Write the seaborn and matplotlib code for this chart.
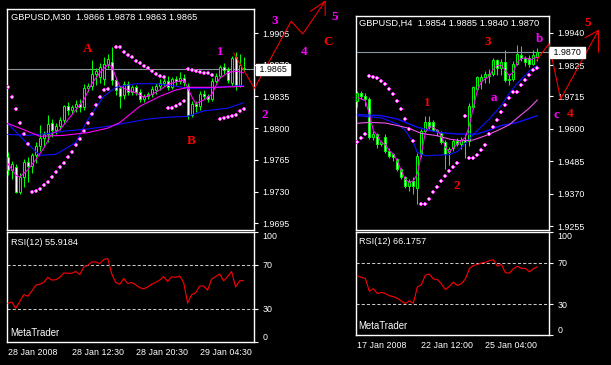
import matplotlib
matplotlib.use("Agg")
import matplotlib.pyplot as plt
import matplotlib.transforms as mtransforms
import seaborn as sns

W, H = 611, 365

# ---------------- GBPUSD M30 (left) ----------------
m30_open = [1.9768, 1.9754, 1.9757, 1.9730, 1.9746, 1.9763, 1.9758, 1.9770, 1.9780, 1.9789,
            1.9794, 1.9806, 1.9798, 1.9802, 1.9809, 1.9824, 1.9820, 1.9823, 1.9827, 1.9823,
            1.9844, 1.9846, 1.9860, 1.9856, 1.9854, 1.9871, 1.9873, 1.9853, 1.9844, 1.9836,
            1.9849, 1.9840, 1.9845, 1.9840, 1.9832, 1.9835, 1.9838, 1.9842, 1.9846, 1.9850,
            1.9852, 1.9845, 1.9854, 1.9852, 1.9855, 1.9846, 1.9815, 1.9827, 1.9824, 1.9838,
            1.9835, 1.9832, 1.9852, 1.9858, 1.9868, 1.9864, 1.9850, 1.9878, 1.9848, 1.9866]
m30_high = [1.9774, 1.9764, 1.9760, 1.9750, 1.9766, 1.9768, 1.9772, 1.9785, 1.9803, 1.9797,
            1.9814, 1.9810, 1.9806, 1.9812, 1.9826, 1.9829, 1.9826, 1.9831, 1.9832, 1.9849,
            1.9850, 1.9875, 1.9866, 1.9872, 1.9878, 1.9882, 1.9890, 1.9856, 1.9847, 1.9852,
            1.9852, 1.9848, 1.9848, 1.9843, 1.9838, 1.9840, 1.9846, 1.9850, 1.9854, 1.9856,
            1.9858, 1.9856, 1.9858, 1.9862, 1.9860, 1.9850, 1.9830, 1.9830, 1.9841, 1.9842,
            1.9838, 1.9855, 1.9861, 1.9870, 1.9872, 1.9867, 1.9880, 1.9884, 1.9882, 1.9878]
m30_low = [1.9748, 1.9744, 1.9728, 1.9727, 1.9735, 1.9740, 1.9750, 1.9762, 1.9775, 1.9780,
           1.9785, 1.9790, 1.9794, 1.9798, 1.9806, 1.9815, 1.9816, 1.9818, 1.9818, 1.9820,
           1.9840, 1.9842, 1.9848, 1.9850, 1.9848, 1.9866, 1.9848, 1.9836, 1.9822, 1.9832,
           1.9836, 1.9836, 1.9836, 1.9829, 1.9829, 1.9832, 1.9834, 1.9838, 1.9842, 1.9846,
           1.9842, 1.9843, 1.9848, 1.9849, 1.9847, 1.9810, 1.9812, 1.9818, 1.9820, 1.9832,
           1.9829, 1.9830, 1.9850, 1.9855, 1.9860, 1.9850, 1.9846, 1.9842, 1.9845, 1.9863]
m30_close = [1.9754, 1.9760, 1.9730, 1.9746, 1.9763, 1.9758, 1.9770, 1.9780, 1.9789, 1.9794,
             1.9805, 1.9798, 1.9802, 1.9809, 1.9824, 1.9820, 1.9823, 1.9827, 1.9823, 1.9844,
             1.9846, 1.9860, 1.9863, 1.9868, 1.9871, 1.9876, 1.9853, 1.9842, 1.9835, 1.9849,
             1.9840, 1.9845, 1.9840, 1.9832, 1.9835, 1.9838, 1.9843, 1.9846, 1.9850, 1.9852,
             1.9845, 1.9854, 1.9852, 1.9855, 1.9851, 1.9815, 1.9827, 1.9824, 1.9838, 1.9835,
             1.9832, 1.9852, 1.9858, 1.9868, 1.9864, 1.9853, 1.9877, 1.9848, 1.9870, 1.9865]

m30_ma_fast_bars = [0, 2, 3, 5, 7, 9, 11, 13, 15, 17, 19, 21, 23, 25, 26, 27, 28, 30, 32, 34,
                    36, 38, 40, 42, 44, 45, 46, 47, 49, 51, 52, 53, 55, 57, 59]
m30_ma_fast = [1.9761, 1.9748, 1.9746, 1.9754, 1.9765, 1.9778, 1.9794, 1.9798, 1.9809, 1.9820,
               1.9831, 1.9849, 1.9861, 1.9870, 1.9868, 1.9857, 1.9846, 1.9842, 1.9839, 1.9834,
               1.9837, 1.9842, 1.9848, 1.9851, 1.9853, 1.9845, 1.9835, 1.9827, 1.9831, 1.9837,
               1.9846, 1.9855, 1.9861, 1.9863, 1.9861]
m30_ma_slow_bars = [0, 3, 8, 14, 20, 25, 28, 33, 38, 42, 45, 52, 59]
m30_ma_slow = [1.9805, 1.9800, 1.9791, 1.9792, 1.9795, 1.9800, 1.9806, 1.9824, 1.9835, 1.9842,
               1.9845, 1.9845, 1.9846]
m30_blue_fast_bars = [0, 4, 8, 12, 17, 20, 24, 27, 32, 37, 41, 45, 50, 55, 59]
m30_blue_fast = [1.9805, 1.9787, 1.9770, 1.9771, 1.9784, 1.9809, 1.9835, 1.9845, 1.9849, 1.9849,
                 1.9847, 1.9844, 1.9844, 1.9846, 1.9847]
m30_blue_slow_bars = [0, 5, 10, 15, 20, 25, 30, 35, 40, 45, 49, 55, 59]
m30_blue_slow = [1.9793, 1.9792, 1.9794, 1.9797, 1.9799, 1.9802, 1.9806, 1.9810, 1.9812, 1.9813,
                 1.9819, 1.9822, 1.9828]

m30_sar_bars = list(range(0, 26)) + list(range(27, 52)) + list(range(53, 60))
m30_sar = [1.9845, 1.9834, 1.9821, 1.9806, 1.9794, 1.9783,
           1.9729, 1.9731, 1.9733, 1.9737, 1.9741, 1.9746, 1.9751, 1.9757, 1.9761, 1.9768,
           1.9774, 1.9781, 1.9788, 1.9797, 1.9806, 1.9816, 1.9826, 1.9834, 1.9842, 1.9843,
           1.9890, 1.9890, 1.9884, 1.9881, 1.9878, 1.9874, 1.9872, 1.9869, 1.9866, 1.9863,
           1.9860, 1.9858, 1.9856,
           1.9822, 1.9822, 1.9824, 1.9827, 1.9830,
           1.9865, 1.9864, 1.9863, 1.9862, 1.9861, 1.9861, 1.9859,
           1.9810, 1.9811, 1.9812, 1.9813, 1.9815, 1.9819, 1.9821]

m30_rsi = [35.3, 36.3, 30.6, 36.9, 43.1, 41.6, 46.3, 51.6, 52.5, 54.1,
           58.8, 56.3, 56.6, 58.8, 62.8, 62.5, 62.5, 64.1, 61.3, 68.1,
           69.7, 72.8, 72.8, 71.3, 75.0, 75.9, 61.9, 54.1, 52.5, 57.8,
           53.1, 54.1, 51.9, 49.4, 48.4, 50.0, 52.5, 54.1, 56.3, 59.4,
           55.0, 59.4, 58.8, 60.0, 54.1, 35.3, 43.1, 44.7, 50.9, 50.9,
           47.2, 57.2, 59.4, 61.9, 55.6, 59.4, 64.1, 50.0, 55.6, 55.9]

m30_date_bars = [0, 16, 32, 48]
m30_dates = ["28 Jan 2008", "28 Jan 12:30", "28 Jan 20:30", "29 Jan 04:30"]
m30_yticks = [1.9695, 1.9730, 1.9765, 1.9800, 1.9835, 1.9870, 1.9905]
m30_title = "GBPUSD,M30  1.9866 1.9878 1.9863 1.9865"
m30_rsi_title = "RSI(12) 55.9184"

# wave labels (bar, price, text, colour) and projected wave path
m30_labels = [(20.0, 1.9887, "A", "red"), (46.0, 1.9786, "B", "red"), (53.2, 1.9884, "1", "magenta"),
              (64.3, 1.9815, "2", "magenta"), (66.9, 1.9918, "3", "magenta"),
              (74.2, 1.9884, "4", "magenta"), (81.8, 1.9923, "5", "magenta"),
              (80.2, 1.9895, "C", "red")]
m30_wave_bars = [56.5, 61.7, 70.9, 73.8, 79.4]
m30_wave = [1.9883, 1.9844, 1.9918, 1.9904, 1.9940]
m30_arrow_bars = [75.7, 79.4, 79.4]
m30_arrow = [1.9929, 1.9940, 1.9924]

# ---------------- GBPUSD H4 (right) ----------------
h4_open = [1.9697, 1.9727, 1.9716, 1.9706, 1.9570, 1.9581, 1.9545, 1.9569, 1.9522, 1.9510,
           1.9492, 1.9457, 1.9427, 1.9397, 1.9415, 1.9391, 1.9510, 1.9593, 1.9622, 1.9624,
           1.9596, 1.9583, 1.9553, 1.9516, 1.9530, 1.9556, 1.9545, 1.9560, 1.9557, 1.9676,
           1.9741, 1.9770, 1.9782, 1.9795, 1.9794, 1.9842, 1.9815, 1.9835, 1.9771, 1.9776,
           1.9830, 1.9860, 1.9850, 1.9852, 1.9830, 1.9854]
h4_high = [1.9735, 1.9732, 1.9726, 1.9712, 1.9590, 1.9586, 1.9556, 1.9580, 1.9530, 1.9515,
           1.9497, 1.9462, 1.9432, 1.9420, 1.9430, 1.9512, 1.9600, 1.9646, 1.9646, 1.9630,
           1.9600, 1.9590, 1.9560, 1.9535, 1.9563, 1.9566, 1.9572, 1.9580, 1.9690, 1.9752,
           1.9788, 1.9795, 1.9805, 1.9812, 1.9850, 1.9848, 1.9845, 1.9877, 1.9790, 1.9838,
           1.9895, 1.9893, 1.9858, 1.9862, 1.9880, 1.9885]
h4_low = [1.9676, 1.9705, 1.9680, 1.9565, 1.9560, 1.9530, 1.9540, 1.9515, 1.9496, 1.9485,
          1.9450, 1.9420, 1.9390, 1.9379, 1.9370, 1.9333, 1.9500, 1.9585, 1.9598, 1.9590,
          1.9575, 1.9545, 1.9457, 1.9470, 1.9522, 1.9538, 1.9528, 1.9495, 1.9540, 1.9670,
          1.9735, 1.9740, 1.9760, 1.9760, 1.9785, 1.9790, 1.9790, 1.9765, 1.9755, 1.9770,
          1.9825, 1.9838, 1.9822, 1.9820, 1.9825, 1.9840]
h4_close = [1.9727, 1.9716, 1.9706, 1.9570, 1.9581, 1.9545, 1.9551, 1.9522, 1.9504, 1.9498,
            1.9457, 1.9427, 1.9397, 1.9415, 1.9397, 1.9504, 1.9593, 1.9622, 1.9605, 1.9596,
            1.9590, 1.9553, 1.9510, 1.9528, 1.9556, 1.9545, 1.9560, 1.9552, 1.9680, 1.9747,
            1.9782, 1.9782, 1.9795, 1.9788, 1.9842, 1.9815, 1.9835, 1.9771, 1.9776, 1.9830,
            1.9866, 1.9850, 1.9837, 1.9830, 1.9860, 1.9870]

h4_ma_fast = [1.9711, 1.9705, 1.9699, 1.9652, 1.9593, 1.9575, 1.9551, 1.9545, 1.9522, 1.9510,
              1.9486, 1.9451, 1.9421, 1.9409, 1.9415, 1.9439, 1.9510, 1.9587, 1.9607, 1.9605,
              1.9593, 1.9575, 1.9534, 1.9516, 1.9534, 1.9545, 1.9557, 1.9569, 1.9611, 1.9676,
              1.9737, 1.9765, 1.9777, 1.9785, 1.9812, 1.9824, 1.9824, 1.9806, 1.9788, 1.9800,
              1.9836, 1.9848, 1.9851, 1.9844, 1.9848, 1.9854]
h4_ma_slow_bars = [0, 3, 7, 10, 13, 16, 20, 23, 26, 29, 32, 35, 38, 40, 43, 45]
h4_ma_slow = [1.9619, 1.9622, 1.9620, 1.9611, 1.9601, 1.9583, 1.9575, 1.9563, 1.9557, 1.9560,
              1.9575, 1.9593, 1.9614, 1.9638, 1.9673, 1.9702]
h4_blue_fast_bars = [0, 6, 10, 12, 14, 15, 17, 20, 23, 25, 27, 30, 33, 36, 38, 40, 43, 45]
h4_blue_fast = [1.9646, 1.9638, 1.9617, 1.9593, 1.9551, 1.9516, 1.9504, 1.9506, 1.9508, 1.9519,
                1.9548, 1.9593, 1.9634, 1.9682, 1.9726, 1.9761, 1.9804, 1.9824]
h4_blue_slow_bars = [0, 6, 10, 15, 20, 25, 30, 33, 36, 40, 45]
h4_blue_slow = [1.9650, 1.9646, 1.9634, 1.9605, 1.9587, 1.9581, 1.9581, 1.9595, 1.9611, 1.9622,
                1.9646]

h4_sar_bars = list(range(0, 15)) + list(range(16, 26)) + list(range(27, 46))
h4_sar = [1.9554, 1.9567, 1.9582,
          1.9787, 1.9784, 1.9779, 1.9769, 1.9759, 1.9742, 1.9723, 1.9698, 1.9670, 1.9634, 1.9599,
          1.9556,
          1.9332, 1.9332, 1.9352, 1.9376, 1.9395, 1.9414, 1.9432, 1.9451, 1.9463, 1.9477,
          1.9646,
          1.9496, 1.9496, 1.9508, 1.9525, 1.9543, 1.9581, 1.9605, 1.9631, 1.9658, 1.9682,
          1.9709, 1.9729, 1.9729, 1.9753, 1.9771, 1.9791, 1.9809, 1.9814]

h4_rsi = [57.5, 55.9, 55.0, 42.5, 45.0, 40.3, 41.3, 40.3, 38.1, 37.2,
          35.6, 33.1, 30.6, 33.1, 30.9, 46.6, 48.8, 58.1, 59.1, 54.4,
          53.8, 49.7, 44.1, 47.2, 51.3, 48.1, 49.7, 54.4, 64.4, 67.5,
          68.4, 70.0, 70.6, 72.2, 73.1, 66.9, 68.4, 60.6, 60.0, 64.4,
          66.9, 64.7, 64.7, 61.3, 64.4, 66.2]

h4_date_bars = [0, 16, 32]
h4_dates = ["17 Jan 2008", "22 Jan 12:00", "25 Jan 04:00"]
h4_yticks = [1.9255, 1.9370, 1.9485, 1.9600, 1.9715, 1.9825, 1.9940]
h4_title = "GBPUSD,H4  1.9854 1.9885 1.9840 1.9870"
h4_rsi_title = "RSI(12) 66.1757"

h4_labels = [(17.5, 1.9691, "1", "red"), (24.85, 1.9397, "2", "red"), (32.6, 1.9907, "3", "red"),
             (34.25, 1.9708, "a", "magenta"), (45.5, 1.9919, "b", "magenta"),
             (49.7, 1.9650, "c", "magenta"), (53.2, 1.9652, "4", "red"),
             (57.6, 1.9974, "5", "red")]
h4_wave_bars = [44.8, 47.9, 50.8, 60.25]
h4_wave = [1.9842, 1.9901, 1.9705, 1.9948]
h4_arrow_bars = [56.9, 60.25, 60.25]
h4_arrow = [1.9922, 1.9948, 1.9871]

LIME = "#00ff00"
MAG = "#ff00ff"
BLUE = "#1010ff"
PRICE_LINE = "#8a96a2"

sns.set_theme(style="dark", rc={
    "axes.facecolor": "black", "figure.facecolor": "black", "axes.edgecolor": "white",
    "axes.linewidth": 1.0, "axes.grid": False, "xtick.color": "white", "ytick.color": "white",
})
plt.rcParams["font.family"] = ["Liberation Sans", "DejaVu Sans"]


def px_axes(fig, x0, y0, x1, y1):
    return fig.add_axes([x0 / W, 1 - y1 / H, (x1 - x0) / W, (y1 - y0) / H])


def draw_candles(ax, o, h, l, c, min_h):
    for i in range(len(o)):
        ax.vlines(i, l[i], h[i], color=LIME, lw=0.75, zorder=3)
        lo, hi = min(o[i], c[i]), max(o[i], c[i])
        fill = "black" if c[i] >= o[i] else "white"
        ax.bar(i, max(hi - lo, min_h), bottom=lo, width=0.55, color=fill,
               edgecolor=LIME, linewidth=0.7, zorder=4)


def price_panel(ax, o, h, l, c, lines, sar_x, sar_y, ylim, xlim, yticks, title, last):
    ax.set_xlim(*xlim)
    ax.set_ylim(*ylim)
    ax.axhline(last, color=PRICE_LINE, lw=0.8, zorder=2)
    draw_candles(ax, o, h, l, c, (ylim[1] - ylim[0]) / 500)
    for xs, ys, col, lw in lines:
        sns.lineplot(x=xs, y=ys, ax=ax, color=col, lw=lw, zorder=5)
    # parabolic SAR: small magenta crosses with a light centre
    sns.scatterplot(x=sar_x, y=sar_y, ax=ax, marker="P", s=6, color="#ff22ff",
                    linewidth=0, zorder=6, legend=False)
    sns.scatterplot(x=sar_x, y=sar_y, ax=ax, marker="s", s=0.6, color="#ffd0ff",
                    linewidth=0, zorder=7, legend=False)
    ax.yaxis.tick_right()
    ax.set_yticks(yticks)
    ax.set_yticklabels([f"{v:.4f}" for v in yticks])
    ax.tick_params(axis="y", colors="white", labelsize=6.4, length=3, width=0.8, pad=3)
    ax.set_xticks([])
    ax.set_xlabel("")
    ax.set_ylabel("")
    ax.text(0.018, 0.985, title, transform=ax.transAxes, color="white", fontsize=6.7,
            ha="left", va="top")
    trans = mtransforms.blended_transform_factory(ax.transAxes, ax.transData)
    ax.text(1.012, last, f" {last:.4f} ", transform=trans, color="black", fontsize=6.4,
            ha="left", va="center", clip_on=False, zorder=20,
            bbox=dict(boxstyle="square,pad=0.12", fc="white", ec="white"))


def rsi_panel(ax, rsi, xlim, date_bars, dates, title):
    ax.set_xlim(*xlim)
    ax.set_ylim(0, 100)
    for lvl in (30, 70):
        ax.axhline(lvl, color="#c8c8c8", lw=0.75, ls=(0, (3, 2)), zorder=2)
    sns.lineplot(x=list(range(len(rsi))), y=rsi, ax=ax, color="red", lw=0.8, zorder=4)
    ax.yaxis.tick_right()
    ax.set_yticks([0, 30, 70, 100])
    ax.set_yticklabels(["0", "30", "70", "100"])
    ax.tick_params(axis="y", colors="white", labelsize=6.4, length=3, width=0.8, pad=3)
    labs = ax.get_yticklabels()
    labs[0].set_va("bottom")
    labs[3].set_va("top")
    ax.set_xticks(date_bars)
    ax.set_xticklabels(dates, ha="left")
    ax.tick_params(axis="x", colors="white", labelsize=6.4, length=3, width=0.8, pad=1.5)
    ax.set_xlabel("")
    ax.set_ylabel("")
    ax.text(0.018, 0.95, title, transform=ax.transAxes, color="white", fontsize=6.6,
            ha="left", va="top")
    ax.text(0.012, 0.04, "MetaTrader", transform=ax.transAxes, color="white", fontsize=6.9,
            ha="left", va="bottom")


def waves(ax, labels, wx, wy, ax_x, ax_y):
    for x, y, s, col in labels:
        ax.text(x, y, s, color=col, fontsize=9.5, fontweight="bold", family="Liberation Serif",
                ha="center", va="center", clip_on=False, zorder=15)
    ax.plot(wx, wy, color="red", lw=0.75, clip_on=False, zorder=14)
    ax.plot(ax_x, ax_y, color="red", lw=0.75, clip_on=False, zorder=14)


fig = plt.figure(figsize=(W / 100, H / 100), dpi=100)

# left chart
ax1 = px_axes(fig, 7, 9, 254, 230)
m30_lines = [(m30_blue_slow_bars, m30_blue_slow, BLUE, 0.8),
             (m30_blue_fast_bars, m30_blue_fast, BLUE, 0.8),
             (m30_ma_slow_bars, m30_ma_slow, MAG, 0.8),
             (m30_ma_fast_bars, m30_ma_fast, MAG, 0.8)]
price_panel(ax1, m30_open, m30_high, m30_low, m30_close, m30_lines, m30_sar_bars, m30_sar,
            (1.96875, 1.99315), (-0.2, 61.6), m30_yticks, m30_title, m30_close[-1])
waves(ax1, m30_labels, m30_wave_bars, m30_wave, m30_arrow_bars, m30_arrow)

ax2 = px_axes(fig, 7, 232, 254, 342)
rsi_panel(ax2, m30_rsi, (-0.2, 61.6), m30_date_bars, m30_dates, m30_rsi_title)

# right chart
ax3 = px_axes(fig, 356, 16, 549, 230)
h4_lines = [(h4_blue_slow_bars, h4_blue_slow, BLUE, 1.0),
            (h4_blue_fast_bars, h4_blue_fast, BLUE, 0.8),
            (h4_ma_slow_bars, h4_ma_slow, "#ee55ee", 0.8),
            (list(range(len(h4_ma_fast))), h4_ma_fast, MAG, 0.8)]
price_panel(ax3, h4_open, h4_high, h4_low, h4_close, h4_lines, h4_sar_bars, h4_sar,
            (1.9241, 1.9999), (-0.33, 47.9), h4_yticks, h4_title, h4_close[-1])
waves(ax3, h4_labels, h4_wave_bars, h4_wave, h4_arrow_bars, h4_arrow)

ax4 = px_axes(fig, 356, 232, 549, 335)
rsi_panel(ax4, h4_rsi, (-0.33, 47.9), h4_date_bars, h4_dates, h4_rsi_title)

fig.savefig("out.png", dpi=100, facecolor="black")
